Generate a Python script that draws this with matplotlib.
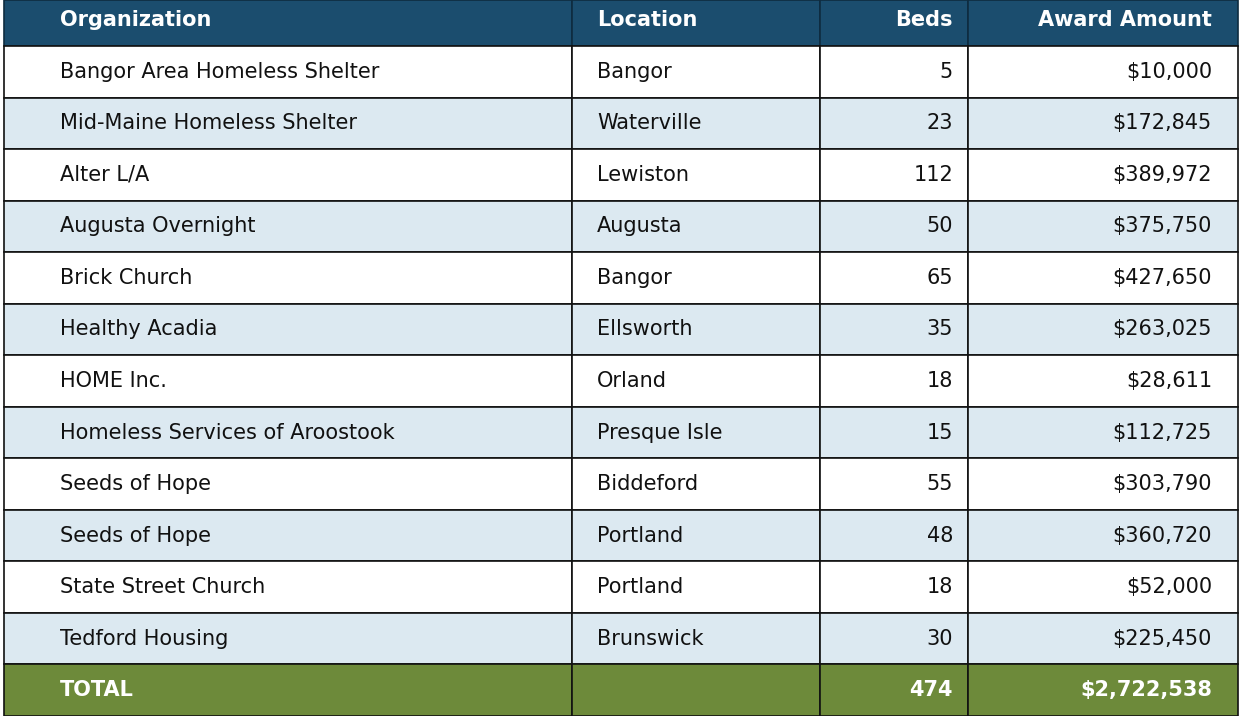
import matplotlib
matplotlib.use("Agg")
import matplotlib.pyplot as plt
from matplotlib.patches import Rectangle

# Table data
headers = ["Organization", "Location", "Beds", "Award Amount"]
organizations = ["Bangor Area Homeless Shelter", "Mid-Maine Homeless Shelter", "Alter L/A",
                 "Augusta Overnight", "Brick Church", "Healthy Acadia", "HOME Inc.",
                 "Homeless Services of Aroostook", "Seeds of Hope", "Seeds of Hope",
                 "State Street Church", "Tedford Housing"]
locations = ["Bangor", "Waterville", "Lewiston", "Augusta", "Bangor", "Ellsworth", "Orland",
             "Presque Isle", "Biddeford", "Portland", "Portland", "Brunswick"]
beds = [5, 23, 112, 50, 65, 35, 18, 15, 55, 48, 18, 30]
awards = [10000, 172845, 389972, 375750, 427650, 263025, 28611, 112725, 303790, 360720, 52000, 225450]

HEADER_BG = "#1b4d6e"
ALT_BG = "#dce9f1"
TOTAL_BG = "#6d8a3a"

fig = plt.figure(figsize=(12.4, 7.16), dpi=100)
ax = fig.add_axes([0, 0, 1, 1])
ax.set_xlim(0, 1240)
ax.set_ylim(716, 0)
ax.axis("off")

col_edges = [4, 572, 820, 968, 1238]
header_h = 46
n_rows = len(organizations) + 1
row_h = (716 - header_h) / n_rows

def row_cells(y, h, bg, texts, color, bold, dy=0):
    for c in range(4):
        x0, x1 = col_edges[c], col_edges[c + 1]
        ax.add_patch(Rectangle((x0, y), x1 - x0, h, facecolor=bg,
                               edgecolor="#111111" if bg != HEADER_BG else "#0e2c40", lw=1.2))
        t = texts[c]
        if not t:
            continue
        if c < 2:
            tx, ha = x0 + (56 if c == 0 else 25), "left"
        else:
            tx, ha = x1 - 15 if c == 2 else x1 - 26, "right"
        ax.text(tx, y + h / 2 + dy, t, ha=ha, va="center", fontsize=15, color=color,
                fontweight="bold" if bold else "normal")

row_cells(0, header_h, HEADER_BG, headers, "white", True, dy=-3)
for i in range(len(organizations)):
    y = header_h + i * row_h
    bg = "white" if i % 2 == 0 else ALT_BG
    row_cells(y, row_h, bg, [organizations[i], locations[i], str(beds[i]), f"${awards[i]:,}"],
              "#111111", False)
y = header_h + len(organizations) * row_h
row_cells(y, row_h, TOTAL_BG, ["TOTAL", "", str(sum(beds)), f"${sum(awards):,}"], "white", True)

fig.savefig("out.png", dpi=100)
